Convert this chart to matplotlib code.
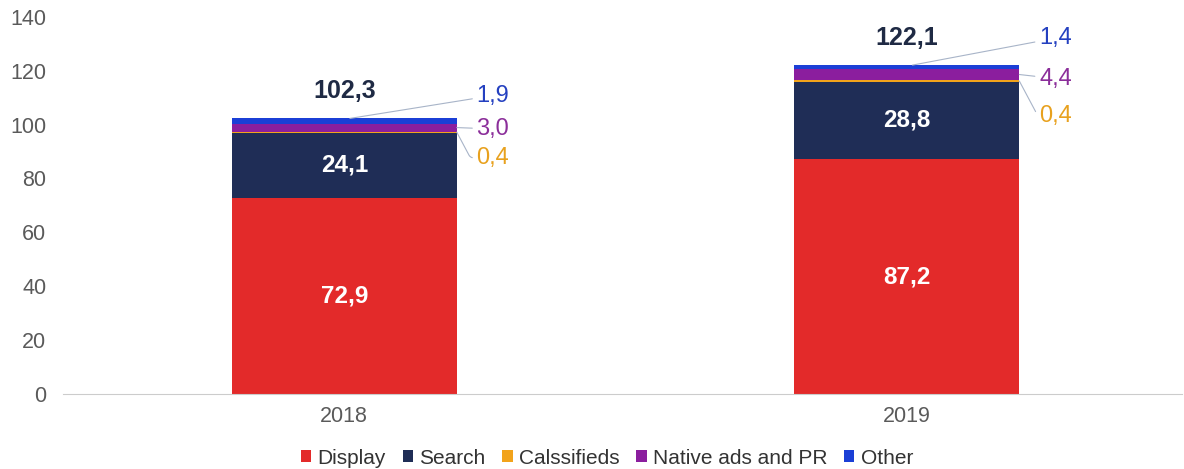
import matplotlib.pyplot as plt
import numpy as np

plt.rcParams['font.family'] = ['Liberation Sans', 'DejaVu Sans']

# Données du marché publicitaire digital (Mds)
years = ['2018', '2019']
series_names = ['Display', 'Search', 'Calssifieds', 'Native ads and PR', 'Other']
display = [72.9, 87.2]
search = [24.1, 28.8]
classifieds = [0.4, 0.4]
native = [3.0, 4.4]
other = [1.9, 1.4]
totals = [102.3, 122.1]

colors = ['#E32A2A', '#1F2D56', '#F2A31B', '#8B1E9E', '#1B3FD6']
label_colors = ['#E32A2A', '#1F2D56', '#E8A11E', '#8B2E9A', '#2440C0']

def fmt(v):
    return f'{v:.1f}'.replace('.', ',')

fig = plt.figure(figsize=(11.84, 4.69), dpi=100)
ax = fig.add_axes([0.0532, 0.16, 0.9455, 0.804])

x = np.arange(len(years))
width = 0.4
values = [display, search, classifieds, native, other]
bottom = np.zeros(len(years))
bottoms = []
for vals, col, name in zip(values, colors, series_names):
    ax.bar(x, vals, width, bottom=bottom, color=col, label=name, zorder=2)
    bottoms.append(bottom.copy())
    bottom = bottom + np.array(vals)

# labels dans les barres (Display, Search) + total
for i in range(len(years)):
    ax.text(x[i], bottoms[0][i] + display[i] / 2, fmt(display[i]), ha='center', va='center',
            color='white', fontsize=17.5, fontweight='bold')
    ax.text(x[i], bottoms[1][i] + search[i] / 2, fmt(search[i]), ha='center', va='center',
            color='white', fontsize=17.5, fontweight='bold')
    ax.text(x[i], totals[i] + 10, fmt(totals[i]), ha='center', va='center',
            color='#1F2A44', fontsize=18, fontweight='bold')

# petites séries : étiquettes à droite avec traits de rappel
side_offsets = {2: [-9.5, -13], 3: [-0.5, -1.5], 4: [8.5, 10]}
line_col = '#A8B4C8'
for i in range(len(years)):
    xt = x[i] + width / 2 + 0.035
    # Other : trait depuis le haut de la barre
    y_other = totals[i]
    ax.annotate(fmt(other[i]), xy=(x[i] + 0.01, y_other), xytext=(xt, y_other + side_offsets[4][i]),
                ha='left', va='center', fontsize=17, color=label_colors[4],
                arrowprops=dict(arrowstyle='-', color=line_col, lw=0.8, shrinkA=1, shrinkB=0))
    # Native ads
    y_nat = bottoms[3][i] + native[i] / 2
    ax.annotate(fmt(native[i]), xy=(x[i] + width / 2, y_nat), xytext=(xt, y_nat + side_offsets[3][i]),
                ha='left', va='center', fontsize=17, color=label_colors[3],
                arrowprops=dict(arrowstyle='-', color=line_col, lw=0.8, shrinkA=1, shrinkB=0))
    # Classifieds
    y_cl = bottoms[2][i] + classifieds[i] / 2
    ax.annotate(fmt(classifieds[i]), xy=(x[i] + width / 2, y_cl), xytext=(xt, y_cl + side_offsets[2][i]),
                ha='left', va='center', fontsize=17, color=label_colors[2],
                arrowprops=dict(arrowstyle='-', color=line_col, lw=0.8, shrinkA=1, shrinkB=0,
                                connectionstyle='angle,angleA=0,angleB=-62,rad=3'))

ax.set_xlim(-0.5, 1.49)
ax.set_ylim(0, 140)
ax.set_yticks(range(0, 141, 20))
ax.set_xticks(x)
ax.set_xticklabels(years)
ax.tick_params(axis='both', length=0, labelsize=15.5, colors='#5A5A5A')
ax.tick_params(axis='y', pad=12)
ax.tick_params(axis='x', pad=9)
for s in ['top', 'right', 'left']:
    ax.spines[s].set_visible(False)
ax.spines['bottom'].set_color('#CCCCCC')

ax.legend(loc='center', bbox_to_anchor=(0.486, -0.17), ncol=5, frameon=False,
          fontsize=15, handlelength=0.5, handleheight=0.5, handletextpad=0.3,
          columnspacing=0.8, labelcolor='#333333')

fig.savefig('out.png', dpi=100)
